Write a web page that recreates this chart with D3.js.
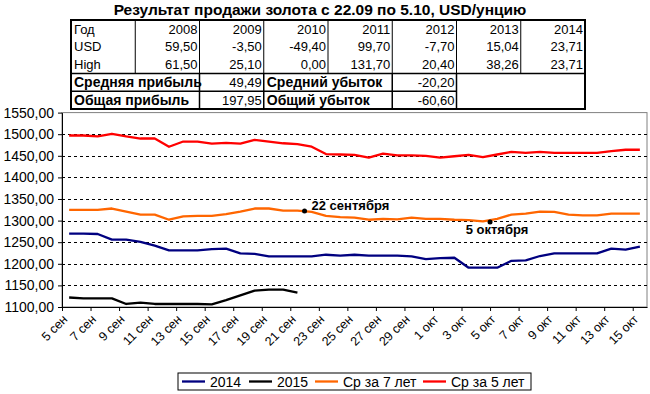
<!DOCTYPE html>
<html><head><meta charset="utf-8">
<script src="https://cdn.jsdelivr.net/npm/d3@7"></script>
<style>
body{margin:0;background:#fff}
svg{display:block}
text{font-family:"Liberation Sans",Arial,sans-serif;fill:#000}
</style>
</head><body>
<svg id="c" width="650" height="394"></svg>
<script>
// ---------- DATA ----------
const titleText = "Результат продажи золота с 22.09 по 5.10, USD/унцию";
const days = ["5 сен","6 сен","7 сен","8 сен","9 сен","10 сен","11 сен","12 сен","13 сен","14 сен",
  "15 сен","16 сен","17 сен","18 сен","19 сен","20 сен","21 сен","22 сен","23 сен","24 сен",
  "25 сен","26 сен","27 сен","28 сен","29 сен","30 сен","1 окт","2 окт","3 окт","4 окт",
  "5 окт","6 окт","7 окт","8 окт","9 окт","10 окт","11 окт","12 окт","13 окт","14 окт","15 окт"];
const s2014 = [1270,1270,1269,1256,1256,1251,1242,1231,1231,1231,1234,1235,1224,1223,
  1217,1217,1217,1217,1221,1219,1221,1219,1219,1219,1217,1211,1213,1214,
  1191,1191,1191,1207,1208,1218,1224,1224,1224,1224,1235,1233,1240];
const s2015 = [1122,1120,1120,1120,1107,1110,1107,1107,1107,1107,1106,1116,1127,1138,1140,1140,1133];
const avg7 = [1325,1325,1325,1328,1321,1314,1314,1302,1310,1311,1311,1315,1321,1328,
  1328,1323,1323,1320,1311,1308,1307,1302,1304,1303,1307,1304,1304,1302,
  1301,1298,1304,1314,1316,1321,1320,1314,1312,1312,1316,1316,1316];
const avg5 = [1497,1497,1495,1501,1495,1490,1490,1471,1483,1483,1478,1480,1478,1487,
  1483,1479,1477,1471,1454,1453,1452,1446,1455,1451,1451,1450,1446,1449,
  1452,1447,1453,1459,1457,1459,1457,1457,1457,1457,1461,1464,1464];
const seriesNames = ["2014","2015","Ср за 7 лет","Ср за 5 лет"];
const seriesColors = ["#000080","#000000","#FF6600","#FF0000"];
const yTicks = [1100,1150,1200,1250,1300,1350,1400,1450,1500,1550];
const annotations = [
  {label:"22 сентября", idx:16.5, value:1322.5},
  {label:"5 октября", idx:29.5, value:1297}
];
// table
const years = ["2008","2009","2010","2011","2012","2013","2014"];
const usdResult = [59.50,-3.50,-49.40,99.70,-7.70,15.04,23.71];
const highResult = [61.50,25.10,0.00,131.70,20.40,38.26,23.71];
const avgProfit = 49.49, avgLoss = -20.20, totalProfit = 197.95, totalLoss = -60.60;

// ---------- DRAW ----------
const svg = d3.select("#c");
const ru = d3.formatLocale({decimal:",",thousands:"",grouping:[3],currency:["",""],minus:"-"});
const f2 = ru.format(".2f");

// title
svg.append("text").attr("x",320).attr("y",15).attr("text-anchor","middle")
  .style("font-weight","bold").style("font-size","15.5px").text(titleText);

// table
const colX = d3.scaleLinear().domain([0,8]).range([71,585]);
const rowY = d3.scaleLinear().domain([0,5]).range([20,109]);
const tbl = svg.append("g");
const cellText = (r,c,txt,align,bold,cEnd) => {
  const t = tbl.append("text").attr("y",rowY(r)+13.5).style("font-size","13px").text(txt);
  if (align==="left") t.attr("x",colX(c)+3);
  else t.attr("x",colX(cEnd)-2).attr("text-anchor","end");
  if (bold) t.style("font-weight","bold").style("font-size","14px");
};
cellText(0,0,"Год","left");
cellText(1,0,"USD","left");
cellText(2,0,"High","left");
years.forEach((y,i)=>cellText(0,0,y,"right",false,i+2));
usdResult.forEach((v,i)=>cellText(1,0,f2(v),"right",false,i+2));
highResult.forEach((v,i)=>cellText(2,0,f2(v),"right",false,i+2));
cellText(3,0,"Средняя прибыль","left",true);
cellText(3,0,f2(avgProfit),"right",false,3);
cellText(3,3,"Средний убыток","left",true);
cellText(3,0,f2(avgLoss),"right",false,6);
cellText(4,0,"Общая прибыль","left",true);
cellText(4,0,f2(totalProfit),"right",false,3);
cellText(4,3,"Общий убыток","left",true);
cellText(4,0,f2(totalLoss),"right",false,6);
const tl = (x1,y1,x2,y2,w)=>tbl.append("line").attr("x1",x1).attr("y1",y1).attr("x2",x2).attr("y2",y2)
  .attr("stroke","#000").attr("stroke-width",w);
d3.range(1,8).forEach(c=>tl(colX(c),rowY(0),colX(c),rowY(3),1));
[2,3,5,6].forEach(c=>tl(colX(c),rowY(3),colX(c),rowY(5),1.5));
tl(colX(0),rowY(3),colX(8),rowY(3),1.5);
tl(colX(0),rowY(4),colX(6),rowY(4),1.5);
tbl.append("rect").attr("x",colX(0)).attr("y",rowY(0)).attr("width",colX(8)-colX(0))
  .attr("height",rowY(5)-rowY(0)).attr("fill","none").attr("stroke","#000").attr("stroke-width",2);

// plot
const pL=62, pR=647, pB=307;
const x = d3.scaleLinear().domain([-0.5, days.length-0.5]).range([pL,pR]);
const y = d3.scaleLinear().domain([1100,1550]).range([pB, pB-450*0.432]);
const pT = y(1550);

svg.append("rect").attr("x",pL).attr("y",pT).attr("width",pR-pL).attr("height",pB-pT)
  .attr("fill","none").attr("stroke","#808080").attr("stroke-width",1);

// gridlines
svg.append("g").selectAll("line").data(yTicks.filter(v=>v>1100 && v<1550)).join("line")
  .attr("x1",pL).attr("x2",pR).attr("y1",d=>Math.round(y(d))+0.5).attr("y2",d=>Math.round(y(d))+0.5)
  .attr("stroke","#000").attr("stroke-dasharray","3,3").attr("stroke-width",1);

// y axis
const ya = svg.append("g").attr("transform",`translate(${pL},0)`)
  .call(d3.axisLeft(y).tickValues(yTicks).tickFormat(f2).tickSize(4).tickSizeOuter(0).tickPadding(4));
ya.selectAll("text").style("font-size","14px").attr("font-family",null);
ya.select(".domain").attr("stroke","#000");

// x axis
const xTicks = d3.range(-0.5, days.length-1, 2);
const xa = svg.append("g").attr("transform",`translate(0,${pB})`)
  .call(d3.axisBottom(x).tickValues(xTicks).tickFormat("").tickSize(4).tickSizeOuter(0));
xa.select(".domain").attr("stroke","#000");
svg.append("g").selectAll("text").data(days.map((d,i)=>({d,i})).filter(o=>o.i%2===0)).join("text")
  .attr("transform",o=>`translate(${x(o.i)-4},${pB+10}) rotate(-45)`)
  .attr("text-anchor","end").attr("dy","0.35em").style("font-size","12.5px").text(o=>o.d);

// series
const allSeries = [s2014, s2015, avg7, avg5];
const line = d3.line().x((d,i)=>x(i)).y(d=>y(d));
[3,2,0,1].forEach(k=>{
  svg.append("path").datum(allSeries[k]).attr("d",line).attr("fill","none")
    .attr("stroke",seriesColors[k]).attr("stroke-width",2.3).attr("stroke-linejoin","round");
});

// annotations
annotations.forEach((a,j)=>{
  svg.append("circle").attr("cx",x(a.idx)).attr("cy",y(a.value)).attr("r",2.5).attr("fill","#000");
  const t = svg.append("text").style("font-weight","bold").style("font-size","13px").text(a.label);
  if (j===0) t.attr("x",x(a.idx)+7).attr("y",y(a.value)-1);
  else t.attr("x",x(a.idx)+7).attr("y",y(a.value)+12).attr("text-anchor","middle");
});

// legend
const lg = svg.append("g");
lg.append("rect").attr("x",178).attr("y",373).attr("width",353).attr("height",17)
  .attr("fill","#fff").attr("stroke","#000").attr("stroke-width",1);
const legX = [182,249,315,423];
seriesNames.forEach((n,k)=>{
  lg.append("line").attr("x1",legX[k]).attr("x2",legX[k]+23).attr("y1",381.5).attr("y2",381.5)
    .attr("stroke",seriesColors[k]).attr("stroke-width",2.3);
  lg.append("text").attr("x",legX[k]+28).attr("y",386.5).style("font-size","14px").text(n);
});
</script>
</body></html>
